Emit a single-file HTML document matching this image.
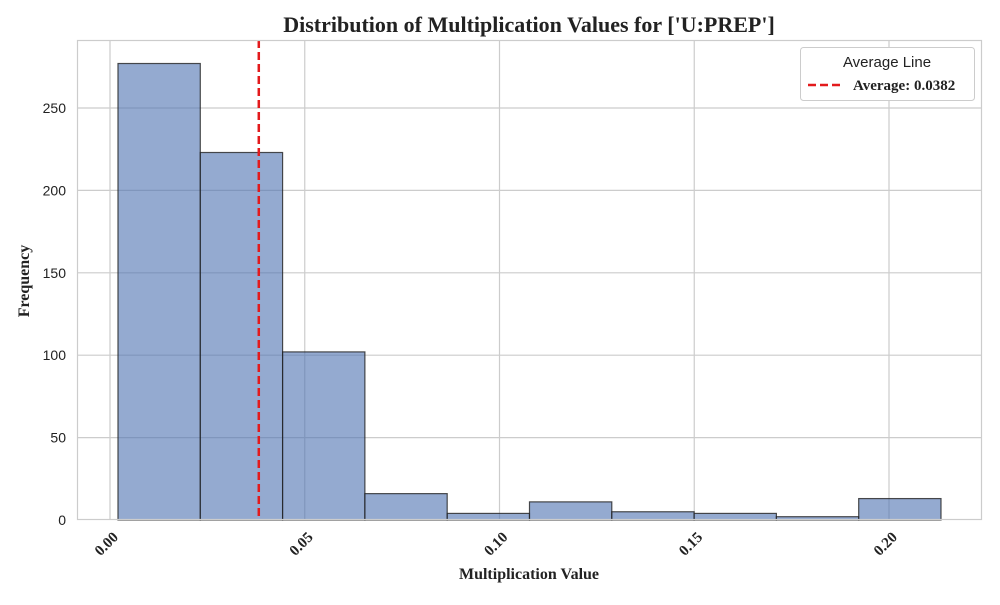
<!DOCTYPE html>
<html><head><meta charset="utf-8"><style>
body{margin:0;background:#fff}
svg text{font-family:"Liberation Serif",serif}
</style></head><body>
<svg id="c" width="1000" height="600" xmlns="http://www.w3.org/2000/svg">
<text x="529" y="32" text-anchor="middle" font-size="22" font-weight="bold" fill="#222">Distribution of Multiplication Values for ['U:PREP']</text>
<g id="grid"></g><g id="bars"></g><g id="ticks"></g>
<rect x="77.5" y="40.5" width="904" height="479" fill="none" stroke="#ccc" stroke-width="1.2"/>
<text x="529" y="579" text-anchor="middle" font-size="16" font-weight="bold" fill="#222">Multiplication Value</text>
<text transform="translate(29,281) rotate(-90)" text-anchor="middle" font-size="16" font-weight="bold" fill="#222">Frequency</text>
<g>
<rect x="800.5" y="47.5" width="174" height="53" rx="3" fill="#fff" stroke="#ccc"/>
<text x="887" y="67" text-anchor="middle" font-size="15" fill="#222" style="font-family:'Liberation Sans',sans-serif">Average Line</text>
<line x1="808" y1="85" x2="844" y2="85" stroke="#e31a1c" stroke-width="2.5" stroke-dasharray="8,4"/>
<text x="853" y="90" font-size="15" font-weight="bold" fill="#222">Average: 0.0382</text>
</g>
</svg>
<script>
const binStart=[0.00205,0.02318,0.04431,0.06544,0.08657,0.1077,0.12883,0.14996,0.17109,0.19222];
const binWidth=0.02113;
const counts=[277,223,102,16,4,11,5,4,2,13];
const xTicks=[0,0.05,0.10,0.15,0.20];
const xTickLabels=["0.00","0.05","0.10","0.15","0.20"];
const yTicks=[0,50,100,150,200,250];
const avgValue=0.0382;
const NS="http://www.w3.org/2000/svg";
const X=v=>110+v*3895, Y=v=>520-v*1.648;
function mk(t,a,p){const e=document.createElementNS(NS,t);for(const k in a)e.setAttribute(k,a[k]);p.appendChild(e);return e;}
const grid=document.getElementById('grid'),bars=document.getElementById('bars'),ticks=document.getElementById('ticks');
xTicks.forEach((v,i)=>{
 const l=mk('line',{x1:X(v),x2:X(v),y1:41,y2:519,stroke:'#ccc','stroke-width':1.2},grid);
 
 
 const t=mk('text',{transform:`translate(${X(v)+9},538) rotate(-45)`,'text-anchor':'end','font-size':15,'font-weight':'bold',fill:'#222'},ticks);
 t.textContent=xTickLabels[i];
 
 
});
yTicks.forEach(v=>{
 if(v>0){const l=mk('line',{x1:78,x2:981,y1:Y(v),y2:Y(v),stroke:'#ccc','stroke-width':1.2},grid);
 
 }
 const t=mk('text',{x:66,y:Y(v)+5,'text-anchor':'end','font-size':14,fill:'#222',style:"font-family:'Liberation Sans',sans-serif"},ticks);
 t.textContent=v;
 
 
});
counts.forEach((c,i)=>{
 const x0=X(binStart[i]),x1=X(binStart[i]+binWidth);
 const r=mk('rect',{x:x0,y:Y(c),width:x1-x0,height:Y(0)-Y(c),fill:'rgba(76,114,176,0.6)',stroke:'#222','stroke-width':1.2,'stroke-opacity':0.8},bars);
 
 
});
const a=mk('line',{x1:X(avgValue),x2:X(avgValue),y1:40,y2:520,stroke:'#e31a1c','stroke-width':2.5,'stroke-dasharray':'8,4'},bars);


</script>
</body></html>
